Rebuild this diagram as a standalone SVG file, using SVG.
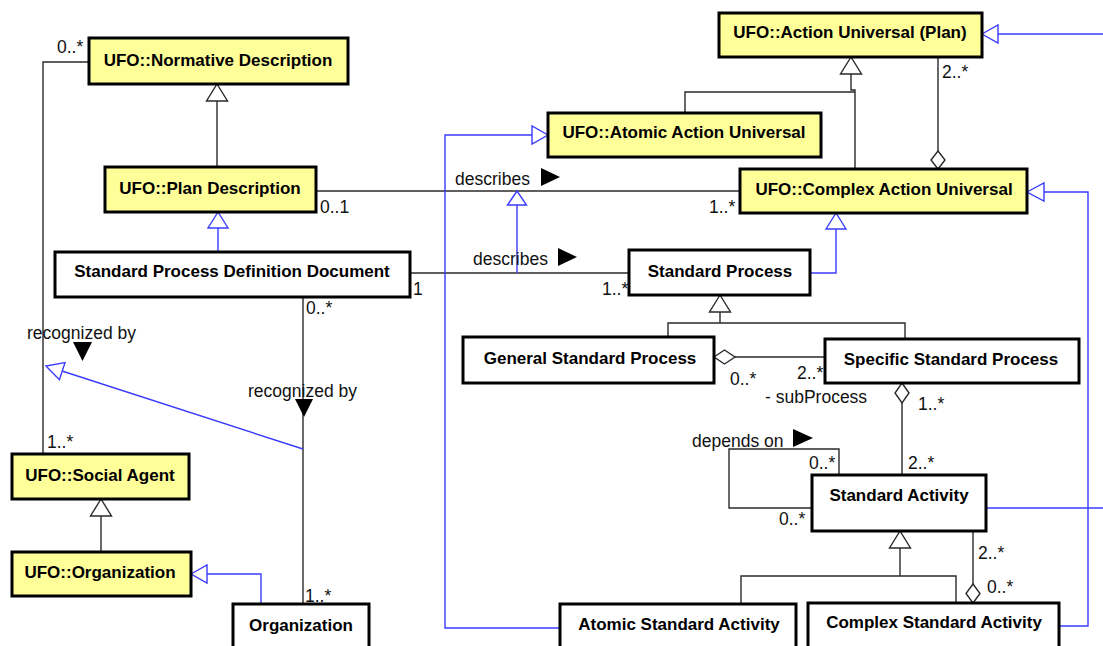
<svg xmlns="http://www.w3.org/2000/svg" width="1103" height="646" viewBox="0 0 1103 646">
  <style>
    .cls { stroke: #000; stroke-width: 3; }
    .ufo { fill: #ffff99; }
    .plain { fill: #ffffff; }
    .name { font-family: "Liberation Sans", Arial, sans-serif; font-weight: bold; font-size: 17px; fill: #000; text-anchor: middle; }
    .lbl { font-family: "Liberation Sans", Arial, sans-serif; font-size: 17.5px; fill: #111; }
    .ln { fill: none; stroke: #2a2a2a; stroke-width: 1.4; }
    .bl { fill: none; stroke: #3b3bff; stroke-width: 1.4; }
    .gen { fill: #fff; stroke: #2a2a2a; stroke-width: 1.4; }
    .genb { fill: #fff; stroke: #3b3bff; stroke-width: 1.4; }
    .agg { fill: #fff; stroke: #2a2a2a; stroke-width: 1.4; }
    .dir { fill: #000; }
  </style>

  <!-- connectors -->
  <g id="connectors">
    <!-- associations -->
    <polyline class="ln" points="89,62 43,62 43,454"/>
    <line class="ln" x1="316" y1="191" x2="740" y2="191"/>
    <line class="ln" x1="410" y1="273" x2="629" y2="273"/>
    <line class="ln" x1="303" y1="297" x2="303" y2="604"/>
    <polyline class="ln" points="839,475 839,449 729,449 729,508 812,508"/>

    <!-- aggregations -->
    <line class="ln" x1="938" y1="57" x2="938" y2="151"/>
    <polygon class="agg" points="938,151 945,160 938,169 931,160"/>
    <line class="ln" x1="735" y1="357" x2="825" y2="357"/>
    <polygon class="agg" points="714,357 724.5,350 735,357 724.5,364"/>
    <line class="ln" x1="902" y1="403" x2="902" y2="475"/>
    <polygon class="agg" points="902,383 909,393 902,403 895,393"/>
    <line class="ln" x1="973" y1="531" x2="973" y2="584"/>
    <polygon class="agg" points="973,584 980,593.5 973,603 966,593.5"/>

    <!-- generalizations (black) -->
    <line class="ln" x1="217" y1="167" x2="217" y2="101"/>
    <polygon class="gen" points="217,84 206.5,101 227.5,101"/>
    <polyline class="ln" points="851,74 851,90 855,90 855,169"/>
    <polyline class="ln" points="685,113 685,92 855,92"/>
    <polygon class="gen" points="851,57 840.5,74 861.5,74"/>
    <polyline class="ln" points="720,312 720,323"/>
    <polyline class="ln" points="668,337 668,323 905,323 905,339"/>
    <polygon class="gen" points="720,295 709.5,312 730.5,312"/>
    <polyline class="ln" points="900,548 900,576"/>
    <polyline class="ln" points="741,604 741,576 956,576 956,603"/>
    <polygon class="gen" points="900,531 889.5,548 910.5,548"/>
    <line class="ln" x1="101" y1="516" x2="101" y2="552"/>
    <polygon class="gen" points="101,499 90.5,516 111.5,516"/>

    <!-- generalizations (blue) -->
    <line class="bl" x1="218" y1="252" x2="218" y2="228"/>
    <polygon class="genb" points="218,212 208,228 228,228"/>
    <polyline class="bl" points="261,604 261,574 207,574"/>
    <polygon class="genb" points="191,574 207,565 207,583"/>
    <line class="bl" x1="303" y1="449" x2="62" y2="371"/>
    <polygon class="genb" points="46,366 59.4,379.8 65,362.6"/>
    <line class="bl" x1="517" y1="273" x2="517" y2="205"/>
    <polygon class="genb" points="517,191 507.5,205 526.5,205"/>
    <polyline class="bl" points="810,273 836,273 836,229"/>
    <polygon class="genb" points="836,213 826,229 846,229"/>
    <polyline class="bl" points="560,628 445,628 445,135 532,135"/>
    <polygon class="genb" points="548,135 532,126 532,144"/>
    <polyline class="bl" points="1059,626 1088,626 1088,192 1044,192"/>
    <polygon class="genb" points="1027,192 1044,183 1044,201"/>
    <line class="bl" x1="986" y1="508" x2="1103" y2="508"/>
    <line class="bl" x1="1103" y1="34" x2="998" y2="34"/>
    <polygon class="genb" points="982,34 998,25 998,43"/>

    <!-- role names, multiplicities and reading directions -->
    <text class="lbl" x="57" y="53">0..*</text>
    <text class="lbl" x="320" y="213">0..1</text>
    <text class="lbl" x="455" y="185">describes</text>
    <polygon class="dir" points="541,168 560,177 541,186"/>
    <text class="lbl" x="709" y="213">1..*</text>
    <text class="lbl" x="942" y="78">2..*</text>
    <text class="lbl" x="473" y="265">describes</text>
    <polygon class="dir" points="558,248 577,257 558,266"/>
    <text class="lbl" x="413" y="295">1</text>
    <text class="lbl" x="602" y="295">1..*</text>
    <text class="lbl" x="306" y="314">0..*</text>
    <text class="lbl" x="27" y="339">recognized by</text>
    <polygon class="dir" points="73,342 92,342 82.5,361"/>
    <text class="lbl" x="248" y="397">recognized by</text>
    <polygon class="dir" points="295,399 313,399 304,417"/>
    <text class="lbl" x="47" y="448">1..*</text>
    <text class="lbl" x="305" y="602">1..*</text>
    <text class="lbl" x="730" y="385">0..*</text>
    <text class="lbl" x="797" y="379">2..*</text>
    <text class="lbl" x="765" y="403">- subProcess</text>
    <text class="lbl" x="918" y="410">1..*</text>
    <text class="lbl" x="692" y="447">depends on</text>
    <polygon class="dir" points="793,429 813,438 793,447"/>
    <text class="lbl" x="809" y="469">0..*</text>
    <text class="lbl" x="908" y="469">2..*</text>
    <text class="lbl" x="779" y="525">0..*</text>
    <text class="lbl" x="978" y="559">2..*</text>
    <text class="lbl" x="987" y="593">0..*</text>
  </g>

  <!-- classes -->
  <g id="normative-description">
    <rect class="cls ufo" x="89" y="38" width="259" height="46"/>
    <text class="name" x="218" y="66">UFO::Normative Description</text>
  </g>
  <g id="plan-description">
    <rect class="cls ufo" x="105" y="167" width="211" height="45"/>
    <text class="name" x="210" y="194">UFO::Plan Description</text>
  </g>
  <g id="action-universal">
    <rect class="cls ufo" x="719" y="13" width="263" height="44"/>
    <text class="name" x="850" y="38">UFO::Action Universal (Plan)</text>
  </g>
  <g id="atomic-action-universal">
    <rect class="cls ufo" x="548" y="113" width="273" height="44"/>
    <text class="name" x="684" y="138">UFO::Atomic Action Universal</text>
  </g>
  <g id="complex-action-universal">
    <rect class="cls ufo" x="740" y="169" width="287" height="44"/>
    <text class="name" x="884" y="195">UFO::Complex Action Universal</text>
  </g>
  <g id="standard-process-definition-document">
    <rect class="cls plain" x="55" y="252" width="355" height="45"/>
    <text class="name" x="232" y="277">Standard Process Definition Document</text>
  </g>
  <g id="standard-process">
    <rect class="cls plain" x="629" y="250" width="181" height="45"/>
    <text class="name" x="720" y="277">Standard Process</text>
  </g>
  <g id="general-standard-process">
    <rect class="cls plain" x="463" y="337" width="251" height="46"/>
    <text class="name" x="590" y="364">General Standard Process</text>
  </g>
  <g id="specific-standard-process">
    <rect class="cls plain" x="825" y="339" width="254" height="44"/>
    <text class="name" x="951" y="365">Specific Standard Process</text>
  </g>
  <g id="standard-activity">
    <rect class="cls plain" x="812" y="475" width="174" height="56"/>
    <text class="name" x="899" y="501">Standard Activity</text>
  </g>
  <g id="social-agent">
    <rect class="cls ufo" x="12" y="454" width="177" height="45"/>
    <text class="name" x="100" y="481">UFO::Social Agent</text>
  </g>
  <g id="ufo-organization">
    <rect class="cls ufo" x="12" y="552" width="179" height="44"/>
    <text class="name" x="100" y="578">UFO::Organization</text>
  </g>
  <g id="organization">
    <rect class="cls plain" x="233" y="604" width="136" height="56"/>
    <text class="name" x="301" y="631">Organization</text>
  </g>
  <g id="atomic-standard-activity">
    <rect class="cls plain" x="560" y="604" width="236" height="56"/>
    <text class="name" x="679" y="630">Atomic Standard Activity</text>
  </g>
  <g id="complex-standard-activity">
    <rect class="cls plain" x="808" y="603" width="251" height="57"/>
    <text class="name" x="934" y="628">Complex Standard Activity</text>
  </g>
</svg>
